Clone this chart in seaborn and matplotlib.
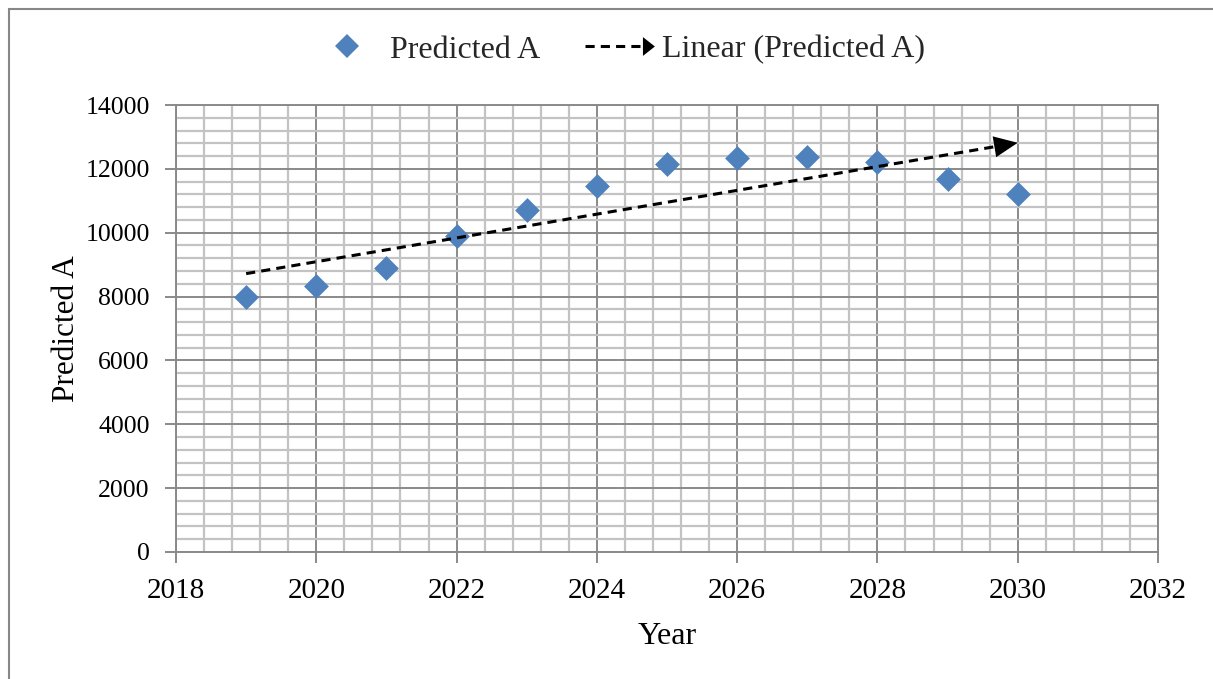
import numpy as np
import pandas as pd
import matplotlib
matplotlib.use("Agg")
import matplotlib.pyplot as plt
import seaborn as sns
from matplotlib.lines import Line2D
from matplotlib.patches import Polygon, Rectangle
from matplotlib.legend_handler import HandlerBase
from matplotlib.ticker import MultipleLocator

years = [2019, 2020, 2021, 2022, 2023, 2024, 2025, 2026, 2027, 2028, 2029, 2030]
predicted_a = [7980, 8330, 8890, 9900, 10720, 11460, 12150, 12350, 12360, 12200, 11670, 11200]
series_label = "Predicted A"
trend_label = "Linear (Predicted A)"
x_label = "Year"
y_label = "Predicted A"

df = pd.DataFrame({"Year": years, "Predicted A": predicted_a})

sns.set_theme(style="white")
plt.rcParams["font.family"] = ["Liberation Serif", "DejaVu Serif"]

fig = plt.figure(figsize=(12.13, 6.79), dpi=100)
fig.patch.set_facecolor("white")
# outer chart border (top and left visible)
fig.patches.append(Rectangle((9 / 1213, -0.05), 1.2, 1 - 9 / 679 + 0.05,
                             transform=fig.transFigure, fill=False,
                             edgecolor="#878787", linewidth=1.5, zorder=0))

ax = fig.add_axes([176 / 1213, 1 - 552 / 679, 982 / 1213, 447 / 679])

marker_color = "#4F81BD"
sns.scatterplot(data=df, x="Year", y="Predicted A", ax=ax, marker="D",
                s=160, color=marker_color, edgecolor=marker_color, linewidth=0,
                zorder=4, legend=False)

# linear trendline (least squares, like Excel)
coef = np.polyfit(df["Year"], df["Predicted A"], 1)
tx = np.array([df["Year"].min(), df["Year"].max()], dtype=float)
ty = np.polyval(coef, tx)
x_end = tx[1] - 0.24
ax.plot([tx[0], x_end], [ty[0], np.polyval(coef, x_end)], color="black",
        lw=2.2, dashes=(3, 2), zorder=5)
ax.annotate("", xy=(tx[1], ty[1]), xytext=(x_end, np.polyval(coef, x_end)),
            arrowprops=dict(arrowstyle="-|>,head_length=0.85,head_width=0.38",
                            color="black", lw=0, shrinkA=0, shrinkB=0,
                            mutation_scale=20), zorder=6)

ax.set_xlim(2018, 2032)
ax.set_ylim(0, 14000)
ax.xaxis.set_major_locator(MultipleLocator(2))
ax.xaxis.set_minor_locator(MultipleLocator(0.4))
ax.yaxis.set_major_locator(MultipleLocator(2000))
ax.yaxis.set_minor_locator(MultipleLocator(400))
ax.grid(which="minor", color="#c3c3c3", linewidth=1.6, zorder=0)
ax.grid(which="major", color="#8a8a8a", linewidth=1.4, zorder=1)
ax.set_axisbelow(True)
for sp in ax.spines.values():
    sp.set_color("#8a8a8a")
    sp.set_linewidth(1.4)
ax.tick_params(axis="x", which="major", direction="out", length=8, width=1.4,
               color="#8a8a8a", labelsize=21, pad=11, bottom=True)
ax.tick_params(axis="y", which="major", direction="out", length=8, width=1.4,
               color="#8a8a8a", labelsize=18.5, pad=11, left=True)
ax.tick_params(which="minor", length=0)
for lab in ax.get_xticklabels() + ax.get_yticklabels():
    lab.set_color("black")

ax.set_xlabel(x_label, fontsize=23, color="black", labelpad=13)
ax.set_ylabel(y_label, fontsize=22.5, color="black", labelpad=3)


class ArrowHandler(HandlerBase):
    def create_artists(self, legend, orig_handle, xdescent, ydescent, width,
                       height, fontsize, trans):
        y = height / 2 - ydescent
        head = 0.17 * width
        line = Line2D([-xdescent, -xdescent + width - head * 0.9], [y, y],
                      color="black", lw=2.2, dashes=(3, 2), transform=trans)
        tri = Polygon([[-xdescent + width - head, y + 0.42 * height],
                       [-xdescent + width, y],
                       [-xdescent + width - head, y - 0.42 * height]],
                      closed=True, facecolor="black", edgecolor="none",
                      transform=trans)
        return [line, tri]


h_points = Line2D([], [], marker="D", linestyle="none", color=marker_color,
                  markersize=12.5, markeredgewidth=0)
h_trend = object()
fig.legend([h_points, h_trend], [series_label, trend_label],
           handler_map={h_trend: ArrowHandler()}, loc="center",
           bbox_to_anchor=(0.51, 1 - 50 / 679), ncol=2, frameon=False,
           fontsize=23, handlelength=2.2, handletextpad=0.22,
           columnspacing=1.4)

fig.savefig("out.png", dpi=100, facecolor="white")
